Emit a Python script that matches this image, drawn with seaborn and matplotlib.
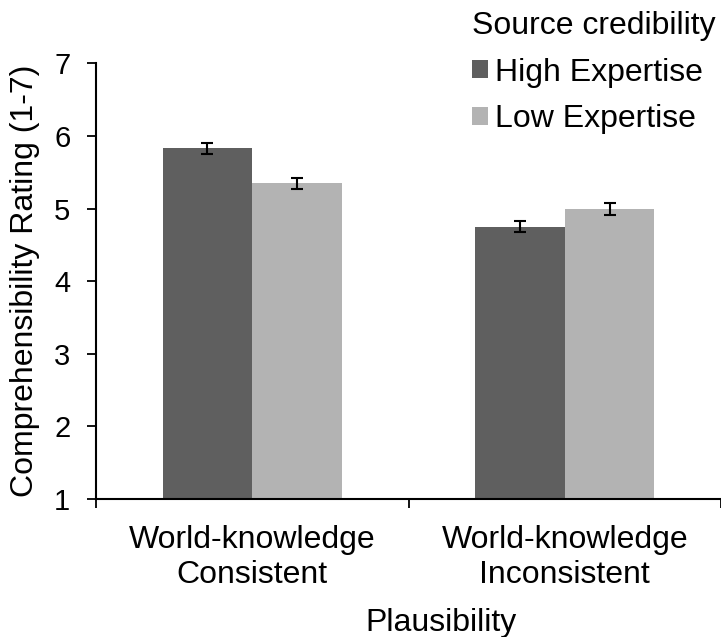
import matplotlib
matplotlib.use("Agg")
import matplotlib.pyplot as plt
import seaborn as sns
import pandas as pd
import numpy as np

# Mean comprehensibility ratings and standard errors
plausibility = ["World-knowledge\nConsistent", "World-knowledge\nInconsistent"]
credibility = ["High Expertise", "Low Expertise"]
high_means = [5.83, 4.75]
low_means = [5.35, 4.99]
high_se = [0.075, 0.078]
low_se = [0.075, 0.080]

y_ticks = [1, 2, 3, 4, 5, 6, 7]

df = pd.DataFrame({
    "Plausibility": plausibility * 2,
    "Source credibility": [credibility[0]] * 2 + [credibility[1]] * 2,
    "Rating": high_means + low_means,
})
errors = {credibility[0]: high_se, credibility[1]: low_se}

sns.set_theme(style="white")
plt.rcParams["font.family"] = ["Liberation Sans", "DejaVu Sans"]
plt.rcParams["text.color"] = "black"
plt.rcParams["axes.labelcolor"] = "black"
plt.rcParams["xtick.color"] = "black"
plt.rcParams["ytick.color"] = "black"

fig = plt.figure(figsize=(7.21, 6.37), dpi=100)
ax = fig.add_axes([96 / 721, 1 - 499 / 637, 625 / 721, 435.7 / 637])

palette = {credibility[0]: "#5f5f5f", credibility[1]: "#b3b3b3"}
sns.barplot(data=df, x="Plausibility", y="Rating", hue="Source credibility",
            hue_order=credibility, order=plausibility, palette=palette,
            width=0.573, errorbar=None, linewidth=0, saturation=1, ax=ax)

# Error bars on top of each bar, placed at the bar centres
for level, container in zip(credibility, ax.containers):
    xs = [p.get_x() + p.get_width() / 2 for p in container.patches]
    ys = [p.get_y() + p.get_height() for p in container.patches]
    ax.errorbar(xs, ys, yerr=errors[level], fmt="none", ecolor="black",
                elinewidth=1.5, capsize=4.3, capthick=1.5, zorder=5)

# Axis limits, ticks and spines
ax.set_ylim(1, 7)
ax.set_xlim(-0.5, 1.5)
ax.set_yticks(y_ticks)
ax.set_yticklabels([str(t) for t in y_ticks])
ax.set_xticks([-0.5, 0.5, 1.5])
ax.set_xticklabels(["", "", ""])
ax.set_xticks([0, 1], minor=True)
ax.set_xticklabels(plausibility, minor=True)
ax.tick_params(axis="y", which="major", direction="out", length=6.5, width=1.3,
               color="black", pad=12, labelsize=21, labelcolor="black", left=True)
ax.tick_params(axis="x", which="major", direction="out", length=6.5, width=1.3,
               color="black", bottom=True)
ax.tick_params(axis="x", which="minor", length=0, pad=19, labelsize=23,
               labelcolor="black")
for lbl in ax.get_xticklabels(minor=True):
    lbl.set_linespacing(1.2)

sns.despine(ax=ax, top=True, right=True)
for side in ["left", "bottom"]:
    ax.spines[side].set_color("black")
    ax.spines[side].set_linewidth(1.5)

ax.set_ylabel("Comprehensibility Rating (1-7)", fontsize=23, color="black")
ax.yaxis.label.set_va("center")
ax.yaxis.set_label_coords((25 - 96) / 625, 0.5)
ax.set_xlabel("Plausibility", fontsize=23, color="black")
ax.xaxis.set_label_coords((441 - 96) / 625, (499 - 608) / 435.7)

handles, labels = ax.get_legend_handles_labels()
leg = ax.legend(handles, labels, title="Source credibility", loc="upper left",
                bbox_to_anchor=(472 / 721, 1 - 11 / 637),
                bbox_transform=fig.transFigure, frameon=False, fontsize=23,
                title_fontsize=23, handlelength=0.5, handleheight=0.5,
                handletextpad=0.22, labelspacing=0.52, borderpad=0,
                borderaxespad=0)
leg._legend_box.align = "left"
leg.get_title().set_color("black")
for t in leg.get_texts():
    t.set_color("black")

fig.savefig("out.png", dpi=100)
